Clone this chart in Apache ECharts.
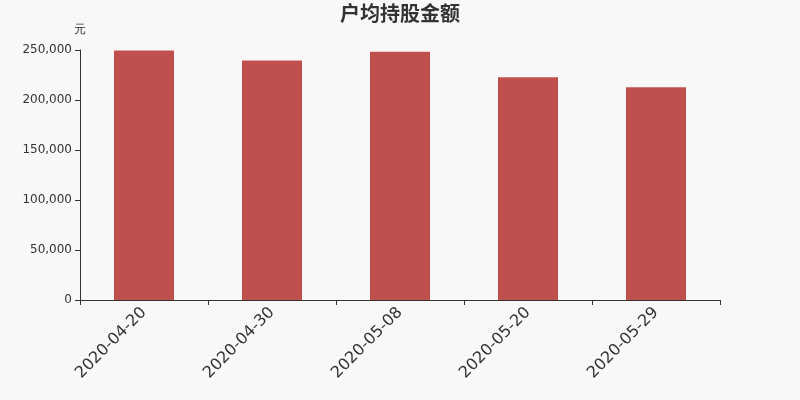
<!DOCTYPE html>
<html>
<head>
<meta charset="utf-8">
<script src="https://cdn.jsdelivr.net/npm/echarts@6/dist/echarts.min.js"></script>
<style>
html,body{margin:0;padding:0;background:#f8f8f8;}
#main{width:800px;height:400px;}
</style>
</head>
<body>
<div id="main"></div>
<script>
var dates = ['2020-04-20', '2020-04-30', '2020-05-08', '2020-05-20', '2020-05-29'];
var amounts = [249500, 239600, 248300, 222700, 212700];

var myChart = echarts.init(document.getElementById('main'));
myChart.setOption({
    backgroundColor: '#f8f8f8',
    textStyle: {fontFamily: 'DejaVu Sans'},
    title: {
        text: '户均持股金额',
        left: 'center',
        top: -2,
        textStyle: {
            fontSize: 20,
            fontWeight: 'bold',
            color: '#333',
            fontFamily: 'Noto Sans CJK SC'
        }
    },
    grid: {
        left: 80,
        right: 80,
        top: 50,
        bottom: 100
    },
    xAxis: {
        type: 'category',
        data: dates,
        axisLine: {lineStyle: {color: '#333'}},
        axisTick: {show: true, alignWithLabel: false},
        axisLabel: {
            rotate: 45,
            fontSize: 16,
            color: '#333',
            fontFamily: 'DejaVu Sans',
            interval: 0,
            margin: 10
        }
    },
    yAxis: {
        type: 'value',
        name: '元',
        nameGap: 14,
        nameTextStyle: {color: '#333', fontSize: 12},
        min: 0,
        max: 250000,
        interval: 50000,
        axisLine: {show: true, lineStyle: {color: '#333'}},
        axisTick: {show: true},
        splitLine: {show: false},
        axisLabel: {color: '#333', fontSize: 12, fontFamily: 'DejaVu Sans'}
    },
    series: [
        {
            type: 'bar',
            data: amounts,
            barWidth: 60,
            itemStyle: {color: '#c0504d'}
        }
    ]
});
</script>
</body>
</html>
